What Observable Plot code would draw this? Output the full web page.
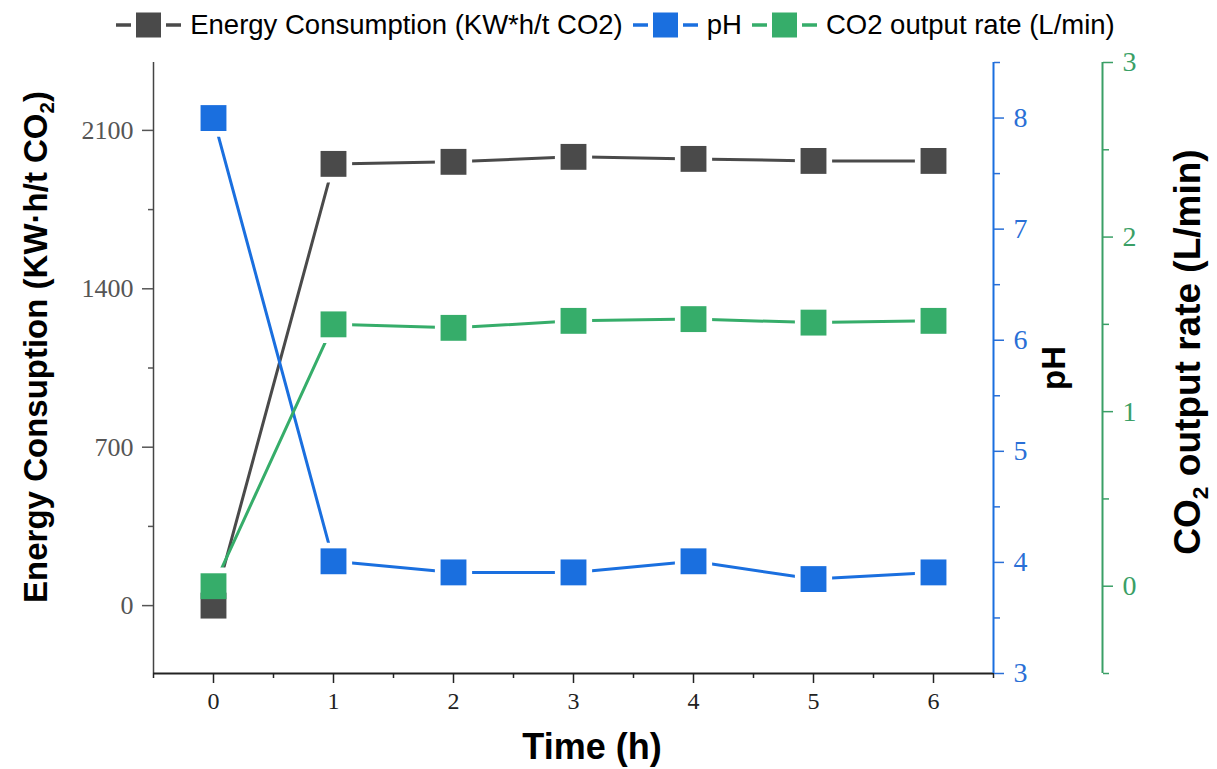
<!DOCTYPE html>
<html><head><meta charset="utf-8">
<script src="https://cdn.jsdelivr.net/npm/d3@7"></script>
<script src="https://cdn.jsdelivr.net/npm/@observablehq/plot@0.6"></script>
<style>
body{margin:0;background:#fff;font-family:"Liberation Sans",Arial,sans-serif;}
#legend{height:50px;display:flex;justify-content:center;align-items:center;font-size:27.5px;color:#000;padding-left:24px;box-sizing:border-box;white-space:nowrap;}
#legend .item{display:flex;align-items:center;margin-right:10px;}
#legend .item svg{margin-right:9px;}
#chart{position:relative;width:1217px;height:719px;}
#chart svg{position:absolute;left:0;top:0;overflow:visible;}
</style>
</head><body>
<div id="legend"></div>
<div id="chart"></div>
<script>
const times = [0, 1, 2, 3, 4, 5, 6];
const energy = [0, 1952, 1961, 1983, 1974, 1965, 1965];
const ph = [8.0, 4.01, 3.91, 3.91, 4.01, 3.85, 3.91];
const co2 = [0.0, 1.50, 1.48, 1.52, 1.53, 1.51, 1.52];
const seriesNames = ["Energy Consumption (KW*h/t CO2)", "pH", "CO2 output rate (L/min)"];
const seriesColors = ["#4a4a4a", "#1a6fdf", "#36ad6a"];
const xTicks = [0, 1, 2, 3, 4, 5, 6];
const xMinor = [-0.5, 0.5, 1.5, 2.5, 3.5, 4.5, 5.5, 6.5];
const energyTicks = [0, 700, 1400, 2100];
const energyMinor = [350, 1050, 1750];
const phTicks = [3, 4, 5, 6, 7, 8];
const phMinor = [3.5, 4.5, 5.5, 6.5, 7.5, 8.5];
const co2Ticks = [0, 1, 2, 3];
const co2Minor = [-0.5, 0.5, 1.5, 2.5];
const xDomain = [-0.5, 6.5];
const energyDomain = [-300, 2400];
const phDomain = [3, 8.5];
const co2Domain = [-0.5, 3];

const series = [
  {values: energy, domain: energyDomain, color: seriesColors[0]},
  {values: ph, domain: phDomain, color: seriesColors[1]},
  {values: co2, domain: co2Domain, color: seriesColors[2]}
].map(s => ({...s, rows: times.map((t, i) => ({t, v: s.values[i]}))}));

const W = 1217, H = 719;
const fmt = d => String(d);
function layer(domain, marks) {
  return Plot.plot({
    width: W, height: H,
    marginLeft: 153, marginRight: 224, marginTop: 12, marginBottom: 96,
    x: {domain: xDomain, axis: null},
    y: {domain, axis: null},
    style: {background: "transparent", fontFamily: "'Liberation Serif', 'DejaVu Serif', serif", fontSize: "24px"},
    marks
  });
}
function sizeLabels(svg, axis, px) {
  d3.select(svg).selectAll(`g[aria-label='${axis}-axis tick label']`).style("font-size", px + "px")
    .selectAll("text").style("font-size", px + "px");
  return svg;
}

const chart = document.getElementById("chart");
const layers = [];

// axes
const axE = layer(energyDomain, [
  Plot.ruleX([xDomain[0]], {stroke: "#444", strokeWidth: 1.5}),
  Plot.ruleY([energyDomain[0]], {stroke: "#222", strokeWidth: 2}),
  Plot.axisY(energyTicks, {anchor: "left", tickSize: 11, tickPadding: 9, color: "#555", label: null, fontSize: 26, strokeWidth: 1.5, tickFormat: fmt}),
  Plot.axisY(energyMinor, {anchor: "left", tickSize: 5, text: null, color: "#555", label: null, strokeWidth: 1.5}),
  Plot.axisX(xTicks, {anchor: "bottom", tickSize: 10, tickPadding: 8, color: "#222", label: null, fontSize: 24, strokeWidth: 1.5, tickFormat: fmt}),
  Plot.axisX(xMinor, {anchor: "bottom", tickSize: 5, text: null, color: "#222", label: null, strokeWidth: 1.5})
]);
sizeLabels(axE, "y", 26); sizeLabels(axE, "x", 24);
layers.push(axE);
const axP = layer(phDomain, [
  Plot.ruleX([xDomain[1]], {stroke: seriesColors[1], strokeWidth: 2}),
  Plot.axisY(phTicks, {anchor: "right", tickSize: 10, tickPadding: 10, color: "#2a6fd6", label: null, fontSize: 28, strokeWidth: 1.5, tickFormat: fmt}),
  Plot.axisY(phMinor, {anchor: "right", tickSize: 6, text: null, color: "#2a6fd6", label: null, strokeWidth: 1.5})
]);
sizeLabels(axP, "y", 28);
layers.push(axP);
const axC = layer(co2Domain, [
  Plot.ruleX([xDomain[1]], {stroke: "#3a9f66", strokeWidth: 2, dx: 109}),
  Plot.axisY(co2Ticks, {anchor: "right", dx: 109, tickSize: 10, tickPadding: 10, color: "#3a9f66", label: null, fontSize: 28, strokeWidth: 1.5, tickFormat: fmt}),
  Plot.axisY(co2Minor, {anchor: "right", dx: 109, tickSize: 6, text: null, color: "#3a9f66", label: null, strokeWidth: 1.5})
]);
sizeLabels(axC, "y", 28);
layers.push(axC);

// lines
for (const s of series) {
  layers.push(layer(s.domain, [
    Plot.line(s.rows, {x: "t", y: "v", stroke: s.color, strokeWidth: 3, strokeLinecap: "round"})
  ]));
}
// gaps around markers
for (const s of series) {
  layers.push(layer(s.domain, [
    Plot.dot(s.rows, {x: "t", y: "v", symbol: "square", r: 21, fill: "white", stroke: "none"})
  ]));
}
// markers
for (const s of series) {
  layers.push(layer(s.domain, [
    Plot.dot(s.rows, {x: "t", y: "v", symbol: "square", r: 14.6, fill: s.color, stroke: "none"})
  ]));
}
layers.forEach(el => chart.appendChild(el));

// axis titles
const t = d3.select(chart).append("svg").attr("width", W).attr("height", H)
  .style("font-family", "'Liberation Sans', Arial, sans-serif").style("font-weight", "bold");
function vtitle(x, y, parts, size) {
  const tx = t.append("text").attr("transform", `translate(${x},${y}) rotate(-90)`)
    .attr("text-anchor", "middle").attr("font-size", size).attr("fill", "#000");
  for (const p of parts) {
    const ts = tx.append("tspan").text(p.text);
    if (p.sub) ts.attr("font-size", size * 0.62).attr("dy", size * 0.22);
    else if (p.after) ts.attr("dy", -size * 0.22);
  }
}
vtitle(47, 297, [{text: "Energy Consuption (KW·h/t CO"}, {text: "2", sub: true}, {text: ")", after: true}], 33);
vtitle(1065, 318, [{text: "pH"}], 33);
vtitle(1200, 302, [{text: "CO"}, {text: "2", sub: true}, {text: " output rate (L/min)", after: true}], 37);
t.append("text").attr("x", 592).attr("y", 709).attr("text-anchor", "middle")
  .attr("font-size", 36).text("Time (h)");

// legend
const legend = d3.select("#legend");
seriesNames.forEach((name, i) => {
  const it = legend.append("div").attr("class", "item");
  const sv = it.append("svg").attr("width", 65).attr("height", 26);
  sv.append("line").attr("x1", 0).attr("x2", 15).attr("y1", 13).attr("y2", 13).attr("stroke", seriesColors[i]).attr("stroke-width", 3.5);
  sv.append("line").attr("x1", 50).attr("x2", 65).attr("y1", 13).attr("y2", 13).attr("stroke", seriesColors[i]).attr("stroke-width", 3.5);
  sv.append("rect").attr("x", 20).attr("y", 0.5).attr("width", 25).attr("height", 25).attr("fill", seriesColors[i]);
  it.append("span").text(name);
});
</script>
</body></html>
